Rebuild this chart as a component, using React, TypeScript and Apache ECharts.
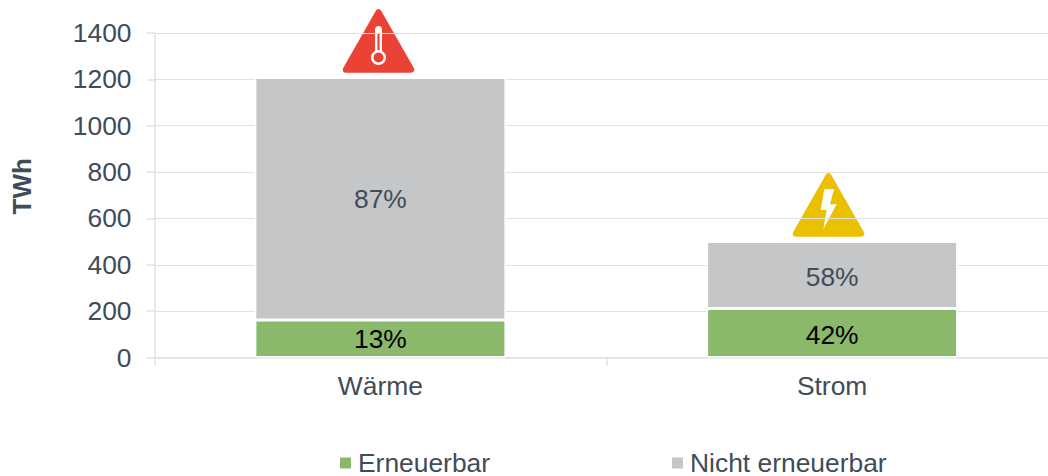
import React, { useEffect, useRef } from "react";
import * as echarts from "echarts";

const categories = ["Wärme", "Strom"];
const renewable = [162, 211];
const nonRenewable = [1046, 290];
const renewableLabels = ["13%", "42%"];
const nonRenewableLabels = ["87%", "58%"];
const FONT = '"Liberation Sans", Arial, sans-serif';
const TEXT = "#404c58";
const RULE = "#dde4dd";
const SIZE = 26.4;

function warning(cx: number, top: number, color: string) {
  const bottom = top + 57;
  return {
    type: "polygon",
    shape: { points: [[cx, top], [cx + 32.5, bottom], [cx - 32.5, bottom]] },
    style: { fill: color, stroke: color, lineWidth: 6.5, lineJoin: "round" },
    silent: true,
  };
}

const withLabelShift = (values: number[], shifts: number[]) =>
  values.map((value, i) => ({ value, label: { offset: [0, shifts[i]] } }));

export default function App() {
  const ref = useRef<HTMLDivElement>(null);
  useEffect(() => {
    document.body.style.margin = "0";
    const chart = echarts.init(ref.current!, null, { renderer: "svg" });
    chart.setOption({
      animation: false,
      textStyle: { fontFamily: FONT },
      grid: { left: 154.5, width: 903.5, top: 33, height: 324.5, containLabel: false, outerBoundsMode: "none" },
      legend: {
        left: 335, top: 445, itemWidth: 11, itemHeight: 11, itemGap: 182, icon: "rect",
        selectedMode: false,
        textStyle: { fontFamily: FONT, fontSize: SIZE, color: TEXT, lineHeight: 22, padding: [0, 0, 0, 2] },
        itemStyle: { borderWidth: 0 },
      },
      xAxis: {
        type: "category", data: categories,
        axisLine: { lineStyle: { color: RULE, width: 1.5 } },
        axisTick: { show: true, length: 8, lineStyle: { color: RULE, width: 1.5 } },
        axisLabel: { fontSize: SIZE, color: TEXT, margin: 15, fontFamily: FONT },
      },
      yAxis: {
        type: "value", min: 0, max: 1400, interval: 200,
        name: "TWh", nameLocation: "middle", nameGap: 120, nameRotate: 90,
        nameTextStyle: { fontSize: 26, fontWeight: "bold", color: TEXT, fontFamily: FONT, padding: [0, 0, 0, 18] },
        axisLine: { show: true, lineStyle: { color: RULE, width: 1.5 } },
        axisTick: { show: true, length: 8, lineStyle: { color: RULE, width: 1.5 } },
        axisLabel: { fontSize: SIZE, color: TEXT, margin: 23, fontFamily: FONT, formatter: (v: number) => String(v) },
        splitLine: { lineStyle: { color: RULE, width: 1.2 } },
      },
      series: [
        {
          name: "Erneuerbar", type: "bar", stack: "a", barWidth: 251, data: withLabelShift(renewable, [0, 2]),
          itemStyle: { color: "#8ab96c", borderColor: "#ffffff", borderWidth: 1.5 },
          label: {
            show: true, position: "inside", fontSize: SIZE, color: "#000000", fontFamily: FONT,
            formatter: (p: any) => renewableLabels[p.dataIndex],
          },
        },
        {
          name: "Nicht erneuerbar", type: "bar", stack: "a", barWidth: 251, data: withLabelShift(nonRenewable, [0, 2]),
          itemStyle: { color: "#c5c6c8", borderColor: "#ffffff", borderWidth: 1.5 },
          label: {
            show: true, position: "inside", fontSize: SIZE, color: TEXT, fontFamily: FONT,
            formatter: (p: any) => nonRenewableLabels[p.dataIndex],
          },
        },
      ],
      graphic: [
        warning(378.5, 12.5, "#ea4335"),
        { type: "rect", shape: { x: 375, y: 26, width: 7, height: 30, r: 3.5 }, style: { fill: "#ffffff" }, silent: true },
        { type: "rect", shape: { x: 377.4, y: 34, width: 2.2, height: 22 }, style: { fill: "#ea4335" }, silent: true },
        { type: "circle", shape: { cx: 378.5, cy: 57.5, r: 7.5 }, style: { fill: "#ffffff" }, silent: true },
        { type: "circle", shape: { cx: 378.5, cy: 57.5, r: 5 }, style: { fill: "#ea4335" }, silent: true },
        warning(828.5, 176.5, "#ebc000"),
        {
          type: "polygon",
          shape: { points: [[824.3, 189.3], [834, 189.3], [830, 204.3], [836.7, 204.3], [823.3, 229], [826.7, 210], [820.7, 210]] },
          style: { fill: "#ffffff" }, silent: true,
        },
      ],
    });
    return () => chart.dispose();
  }, []);
  return <div ref={ref} style={{ width: 1048, height: 476 }} />;
}
